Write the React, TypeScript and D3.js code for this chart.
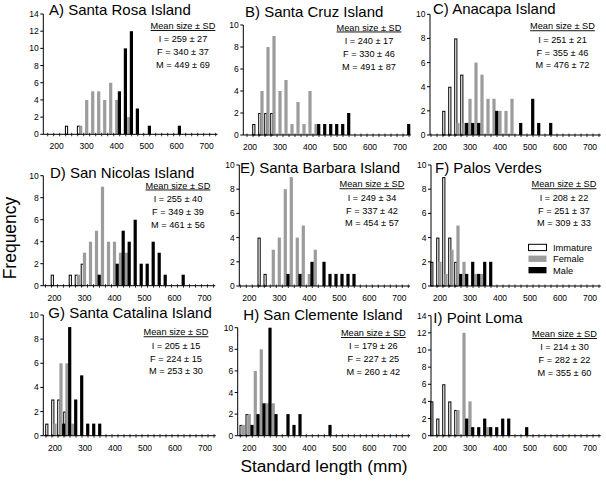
import React from "react";
import * as d3 from "d3";

// ---------- data ----------
const titles = [
  "A) Santa Rosa Island",
  "B) Santa Cruz Island",
  "C) Anacapa Island",
  "D) San Nicolas Island",
  "E) Santa Barbara Island",
  "F) Palos Verdes",
  "G) Santa Catalina Island",
  "H) San Clemente Island",
  "I) Point Loma",
];
const statI = ["I = 259 ± 27", "I = 240 ± 17", "I = 251 ± 21", "I = 255 ± 40", "I = 249 ± 34", "I = 208 ± 22", "I = 205 ± 15", "I = 179 ± 26", "I = 214 ± 30"];
const statF = ["F = 340 ± 37", "F = 330 ± 46", "F = 355 ± 46", "F = 349 ± 39", "F = 337 ± 42", "F = 251 ± 37", "F = 224 ± 15", "F = 227 ± 25", "F = 282 ± 22"];
const statM = ["M = 449 ± 69", "M = 491 ± 87", "M = 476 ± 72", "M = 461 ± 56", "M = 454 ± 57", "M = 309 ± 33", "M = 253 ± 30", "M = 260 ± 42", "M = 355 ± 60"];
const yMaxes = [14, 10, 10, 10, 10, 10, 10, 10, 14];
const xTickValues = [200, 300, 400, 500, 600, 700];
const legendLabels = ["Immature", "Female", "Male"];

type Pair = [number, number];

const immA: Pair[] = [[240, 1], [280, 1]];
const femA: Pair[] = [[280, 1], [300, 4], [320, 5], [340, 5], [360, 4], [380, 6], [400, 4], [440, 2]];
const malA: Pair[] = [[400, 5], [420, 10], [440, 12], [460, 3], [500, 1], [600, 1]];

const immB: Pair[] = [[220, 1], [240, 2], [260, 2], [280, 2]];
const femB: Pair[] = [[240, 4], [260, 8], [280, 9], [300, 4], [320, 5], [340, 1], [360, 3], [380, 1], [400, 4], [420, 1]];
const malB: Pair[] = [[420, 1], [440, 1], [460, 1], [480, 1], [500, 1], [520, 2], [720, 1]];

const immC: Pair[] = [[220, 2], [240, 4], [260, 8], [280, 5]];
const femC: Pair[] = [[260, 1], [280, 1], [300, 3], [320, 6], [340, 5], [360, 3], [380, 3], [400, 2], [420, 2], [440, 3]];
const malC: Pair[] = [[280, 1], [300, 1], [320, 1], [380, 2], [460, 1], [500, 3], [520, 1], [560, 1]];

const immD: Pair[] = [[200, 1], [260, 1], [280, 1], [300, 2]];
const femD: Pair[] = [[280, 1], [300, 3], [320, 4], [340, 5], [360, 9], [380, 4], [400, 4], [420, 3], [440, 3]];
const malD: Pair[] = [[340, 1], [400, 2], [420, 5], [440, 4], [460, 6], [480, 2], [500, 2], [520, 4], [540, 3], [560, 1], [620, 1]];

const immE: Pair[] = [[240, 4], [260, 1]];
const femE: Pair[] = [[280, 3], [300, 4], [320, 8], [340, 9], [360, 4], [380, 5], [400, 1], [420, 3]];
const malE: Pair[] = [[320, 1], [360, 1], [400, 2], [440, 2], [460, 1], [480, 1], [500, 1], [520, 1], [540, 1]];

const immF: Pair[] = [[180, 2], [200, 4], [220, 9], [240, 4], [260, 2]];
const femF: Pair[] = [[200, 2], [220, 1], [240, 3], [260, 5], [280, 2], [320, 1], [340, 1]];
const malF: Pair[] = [[260, 1], [280, 1], [300, 2], [320, 1], [340, 2], [360, 2]];

const immG: Pair[] = [[180, 1], [200, 3], [220, 3], [240, 2]];
const femG: Pair[] = [[200, 1], [220, 6], [240, 6], [260, 1]];
const malG: Pair[] = [[220, 1], [240, 9], [260, 3], [280, 5], [300, 1], [320, 1], [340, 1]];

const immH: Pair[] = [[180, 1], [200, 2]];
const femH: Pair[] = [[180, 1], [200, 2], [220, 6], [240, 8], [260, 3], [280, 3]];
const malH: Pair[] = [[200, 1], [220, 2], [240, 3], [260, 10], [280, 2], [320, 2], [340, 1], [360, 2], [460, 1]];

const immI: Pair[] = [[180, 4], [200, 2], [220, 6], [240, 4], [260, 3]];
const femI: Pair[] = [[260, 3], [280, 12], [300, 4], [360, 1]];
const malI: Pair[] = [[280, 2], [300, 1], [320, 1], [340, 2], [360, 1], [380, 1], [400, 2], [420, 2], [480, 1]];

const immature = [immA, immB, immC, immD, immE, immF, immG, immH, immI];
const female = [femA, femB, femC, femD, femE, femF, femG, femH, femI];
const male = [malA, malB, malC, malD, malE, malF, malG, malH, malI];

// ---------- layout ----------
const layout = [
  { ax: 43.3, lab: 56.7, y0: 134.3, yT: 14, tx: 49, ty: 15, sx: 183, sy: 29 },
  { ax: 243.3, lab: 250, y0: 135, yT: 25, tx: 245, ty: 16.5, sx: 369, sy: 30.5 },
  { ax: 430, lab: 440, y0: 135, yT: 14.3, tx: 433, ty: 13.5, sx: 562.5, sy: 29.3 },
  { ax: 43.3, lab: 54.5, y0: 285.7, yT: 175.7, tx: 50, ty: 177.6, sx: 178, sy: 188.5 },
  { ax: 239.3, lab: 249.3, y0: 286, yT: 165, tx: 240, ty: 172.7, sx: 372, sy: 187.3 },
  { ax: 431, lab: 440, y0: 286, yT: 165, tx: 435, ty: 172.7, sx: 564, sy: 187.3 },
  { ax: 43.3, lab: 55, y0: 435.7, yT: 315, tx: 48.3, ty: 318.3, sx: 176, sy: 335.3 },
  { ax: 237.7, lab: 249.3, y0: 435.7, yT: 327.7, tx: 243.3, ty: 320, sx: 373.3, sy: 336 },
  { ax: 431, lab: 440, y0: 435.7, yT: 315.7, tx: 433.3, ty: 322.7, sx: 564.5, sy: 337 },
];

const FONT = "'Liberation Sans', Arial, sans-serif";
const GRAY = "#9c9c9c";
const BW = 3.2;

function Panel({ i }: { i: number }) {
  const L = layout[i];
  const x = d3.scaleLinear().domain([200, 700]).range([L.lab, L.lab + 150]);
  const y = d3.scaleLinear().domain([0, yMaxes[i]]).range([L.y0, L.yT]);
  const yTicks = d3.range(0, yMaxes[i] + 1, 2);
  const xEnd = x(736);
  const minorTicks = d3.range(150, 760, 20).map((c) => x(c)).filter((p) => p > L.ax + 1 && p < xEnd);
  const bar = (d: Pair, off: number) => ({
    x: x(d[0]) + off - BW / 2,
    y: y(d[1]),
    h: L.y0 - y(d[1]),
  });
  const lineGap = (L.sy + 39 > L.y0 - 60) ? 13 : 13;
  return (
    <g>
      {immature[i].map((d, k) => {
        const b = bar(d, -2.2);
        return <rect key={"i" + k} x={b.x + 0.5} y={b.y + 0.5} width={BW - 1} height={b.h - 0.5} fill="#fff" stroke="#000" strokeWidth={1} />;
      })}
      {female[i].map((d, k) => {
        const b = bar(d, 0);
        return <rect key={"f" + k} x={b.x} y={b.y} width={BW} height={b.h} fill={GRAY} />;
      })}
      {male[i].map((d, k) => {
        const b = bar(d, 2.7);
        return <rect key={"m" + k} x={b.x} y={b.y} width={BW} height={b.h} fill="#000" />;
      })}
      {/* axes */}
      <line x1={L.ax} x2={L.ax} y1={L.y0} y2={L.yT} stroke="#000" strokeWidth={1} />
      <line x1={L.ax} x2={xEnd} y1={L.y0} y2={L.y0} stroke="#000" strokeWidth={1} />
      {yTicks.map((t) => (
        <g key={"yt" + t}>
          <line x1={L.ax - 3} x2={L.ax} y1={y(t)} y2={y(t)} stroke="#000" strokeWidth={1} />
          <text x={L.ax - 4.5} y={y(t) + 3} fontSize={8.5} textAnchor="end" fontFamily={FONT} fill="#000">{t}</text>
        </g>
      ))}
      {minorTicks.map((p, k) => (
        <line key={"mt" + k} x1={p} x2={p} y1={L.y0 - 1.5} y2={L.y0 + 2} stroke="#000" strokeWidth={0.8} />
      ))}
      {xTickValues.map((t) => (
        <text key={"xt" + t} x={x(t)} y={L.y0 + 15} fontSize={8.5} textAnchor="middle" fontFamily={FONT} fill="#000">{t}</text>
      ))}
      <text x={L.tx} y={L.ty} fontSize={15} fontFamily={FONT} fill="#000">{titles[i]}</text>
      <text x={L.sx} y={L.sy} fontSize={9.2} textAnchor="middle" fontFamily={FONT} textDecoration="underline" fill="#000">Mean size ± SD</text>
      <text x={L.sx} y={L.sy + lineGap + 0.3} fontSize={9.2} textAnchor="middle" fontFamily={FONT} fill="#000">{statI[i]}</text>
      <text x={L.sx} y={L.sy + 2 * lineGap + 0.3} fontSize={9.2} textAnchor="middle" fontFamily={FONT} fill="#000">{statF[i]}</text>
      <text x={L.sx} y={L.sy + 3 * lineGap} fontSize={9.2} textAnchor="middle" fontFamily={FONT} fill="#000">{statM[i]}</text>
    </g>
  );
}

function Legend() {
  const fills = ["#fff", GRAY, "#000"];
  const ys = [244.3, 255.6, 267];
  return (
    <g>
      {legendLabels.map((lab, k) => (
        <g key={lab}>
          <rect x={528.5} y={ys[k]} width={18} height={6.3} fill={fills[k]} stroke="#000" strokeWidth={k === 0 ? 1 : 0} />
          <text x={553} y={ys[k] + 6.8} fontSize={9.3} fontFamily={FONT} fill="#000">{lab}</text>
        </g>
      ))}
    </g>
  );
}

export default function App() {
  return (
    <div style={{ position: "absolute", left: 0, top: 0 }}>
      <svg width={606} height={481} style={{ display: "block", background: "#fff" }}>
        <rect x={0} y={0} width={606} height={481} fill="#fff" />
        {titles.map((_, i) => (
          <Panel key={i} i={i} />
        ))}
        <Legend />
        <text transform="translate(16,238) rotate(-90)" fontSize={17.5} textAnchor="middle" fontFamily={FONT} fill="#000">Frequency</text>
        <text x={324} y={472} fontSize={17.3} textAnchor="middle" fontFamily={FONT} fill="#000">Standard length (mm)</text>
      </svg>
    </div>
  );
}
